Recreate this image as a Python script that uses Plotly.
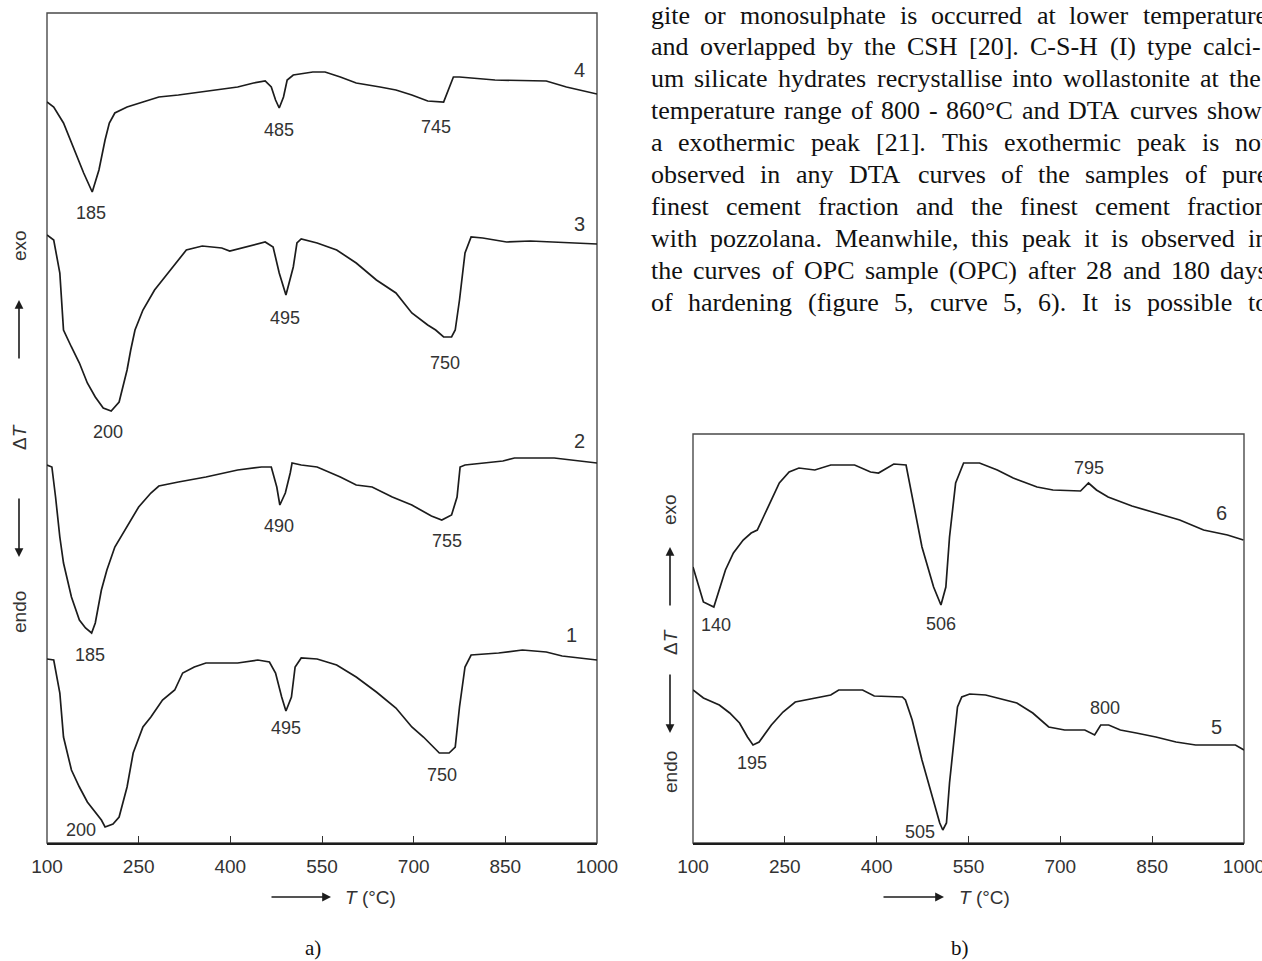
import plotly.graph_objects as go

# ---------------- data (temperature in deg C, Delta T in arbitrary units) ----------------
T1 = [100,111,121,127,140,153,166,179,189,195,208,218,231,241,257,270,289,309,322,341,360,412,445,464,474,484,491,500,506,516,542,574,606,639,671,697,716,729,742,758,768,775,784,794,839,878,917,943,1000]
D1 = [184,183,150,106,73,56,41,31,23,16,19,26,56,90,116,126,143,153,170,176,180,180,183,181,170,146,132,146,176,185,184,178,166,151,135,116,106,98,90,90,96,136,176,188,190,193,191,187,183]

T2 = [100,108,114,121,127,140,153,163,173,179,189,198,211,231,250,270,283,315,360,412,451,467,476,481,490,498,501,516,542,580,606,632,665,697,729,746,762,771,776,784,814,846,865,930,1000]
D2 = [378,376,346,306,280,246,223,215,210,220,253,273,296,316,336,350,357,361,366,373,376,376,356,338,350,370,380,378,376,366,358,356,346,338,327,323,328,346,376,378,380,382,385,385,380]

T3 = [100,111,121,127,140,153,166,179,192,205,218,224,231,237,244,257,276,302,328,354,386,399,425,457,470,480,491,503,509,516,542,574,606,639,671,697,723,736,749,762,768,775,784,794,813,852,891,1000]
D3 = [608,603,570,513,496,480,460,446,435,432,441,456,473,493,513,533,553,573,593,597,595,592,596,601,596,570,548,576,600,604,600,593,580,563,550,530,518,513,506,506,513,543,590,606,605,601,602,599]

T4 = [100,111,127,147,160,174,185,195,202,211,231,257,283,315,380,412,438,457,467,474,480,487,493,503,535,555,580,606,645,671,697,723,749,755,765,775,833,917,950,1000]
D4 = [741,736,720,690,670,651,673,703,720,730,736,741,746,748,753,756,760,762,756,743,735,746,763,768,771,771,766,760,756,753,748,742,741,750,766,766,763,762,756,749]

T5 = [100,117,143,160,176,189,198,208,228,247,267,299,325,338,377,396,442,447,458,474,493,503,508,514,519,526,532,539,552,578,597,629,655,681,707,740,756,766,779,798,824,856,889,921,986,1000]
D5 = [153,145,138,130,120,106,98,101,118,131,141,145,148,153,153,147,146,143,123,83,43,20,13,20,60,103,136,146,149,148,145,140,130,116,113,113,108,118,118,113,110,106,101,98,98,93]

T6 = [100,108,117,134,143,153,166,182,195,205,215,228,241,257,273,299,325,364,390,403,428,448,461,474,493,505,513,519,529,542,568,597,623,662,688,733,746,759,778,817,856,895,934,973,999]
D6 = [276,260,241,236,253,273,290,303,310,313,326,343,360,371,375,373,378,378,371,370,379,378,336,296,256,238,256,306,360,380,380,373,365,356,353,352,360,353,346,337,330,323,313,308,303]

X_TICKS = [100, 250, 400, 550, 700, 850, 1000]

# peak / curve labels (text) and where they sit (T, Delta T)
LABELS_A = ["4", "485", "745", "185", "3", "495", "750", "200", "2", "490", "755", "185", "1", "495", "750", "200"]
LABELS_A_T = [972, 479, 736, 172, 972, 490, 752, 200, 971, 479, 754, 171, 959, 491, 747, 156]
LABELS_A_D = [773, 713, 716, 630, 619, 525, 480, 411, 402, 317, 302, 188, 208, 115, 68, 13]

LABELS_B = ["795", "6", "140", "506", "800", "5", "195", "505"]
LABELS_B_T = [746, 964, 137, 505, 773, 955, 197, 471]
LABELS_B_D = [375, 330, 218, 219, 135, 116, 80, 11]

PARAGRAPH = [
    "gite or monosulphate is occurred at lower temperature",
    "and overlapped by the CSH [20]. C-S-H (I) type calci-",
    "um silicate hydrates recrystallise into wollastonite at the",
    "temperature range of 800 - 860°C and DTA curves show",
    "a exothermic peak [21]. This exothermic peak is not",
    "observed in any DTA curves of the samples of pure",
    "finest cement fraction and the finest cement fraction",
    "with pozzolana. Meanwhile, this peak it is observed in",
    "the curves of OPC sample (OPC) after 28 and 180 days",
    "of hardening (figure 5, curve 5, 6). It is possible to",
]

# ---------------- layout helpers ----------------
W, H = 1262, 961
def X(p):
    return p / W
def Y(p):
    return 1 - p / H

SANS = "Liberation Sans, Arial, sans-serif"
SERIF = "Liberation Serif, Times New Roman, serif"
TXT = "#333333"
LINE = "#1c1c1c"

fig = go.Figure()
for T, D in [(T1, D1), (T2, D2), (T3, D3), (T4, D4)]:
    fig.add_trace(go.Scatter(x=T, y=D, mode="lines", line=dict(color=LINE, width=1.7),
                             xaxis="x", yaxis="y", showlegend=False, hoverinfo="skip"))
for T, D in [(T5, D5), (T6, D6)]:
    fig.add_trace(go.Scatter(x=T, y=D, mode="lines", line=dict(color=LINE, width=1.7),
                             xaxis="x2", yaxis="y2", showlegend=False, hoverinfo="skip"))

xcommon = dict(range=[100, 1000], tickvals=X_TICKS, ticks="inside", ticklen=7, tickwidth=1.3,
               tickcolor="#333", showline=True, linecolor="#1c1c1c", linewidth=2.4,
               showgrid=False, zeroline=False, tickfont=dict(family=SANS, size=19, color=TXT),
               ticklabelstandoff=5, automargin=False, ticklabeloverflow="allow")

fig.update_layout(
    width=W, height=H, margin=dict(l=0, r=0, t=0, b=0, pad=0, autoexpand=False),
    paper_bgcolor="white", plot_bgcolor="white",
    xaxis=dict(domain=[X(47), X(597)], anchor="y", **xcommon),
    yaxis=dict(domain=[Y(843), Y(13)], range=[0, 830], visible=False, automargin=False),
    xaxis2=dict(domain=[X(693), X(1244)], anchor="y2", **xcommon),
    yaxis2=dict(domain=[Y(843), Y(434)], range=[0, 409], visible=False, automargin=False),
)

# frames
for xr, yr in [("x domain", "y domain"), ("x2 domain", "y2 domain")]:
    fig.add_shape(type="rect", xref=xr, yref=yr, x0=0, x1=1, y0=0, y1=1,
                  line=dict(color="#4a4a4a", width=1.4), layer="below")

ann = []
# peak labels
for t, x, d in zip(LABELS_A, LABELS_A_T, LABELS_A_D):
    ann.append(dict(x=x, y=d, xref="x", yref="y", text=t, showarrow=False,
                    xanchor="center", yanchor="middle",
                    font=dict(family=SANS, size=18 if len(t) > 1 else 20, color=TXT)))
for t, x, d in zip(LABELS_B, LABELS_B_T, LABELS_B_D):
    ann.append(dict(x=x, y=d, xref="x2", yref="y2", text=t, showarrow=False,
                    xanchor="center", yanchor="middle",
                    font=dict(family=SANS, size=18 if len(t) > 1 else 20, color=TXT)))

def P(x, y, **kw):
    d = dict(x=X(x), y=Y(y), xref="paper", yref="paper", xanchor="center", yanchor="middle")
    d.update(kw)
    return d

ARROW = dict(arrowhead=2, arrowsize=1.1, arrowwidth=1.6, arrowcolor="#1c1c1c", standoff=0, startstandoff=0)

# x-axis titles with arrows
for tail, tip, tx in [(270, 331, 343), (882, 944, 957)]:
    ann.append(P(tip, 897, text="", showarrow=True, ax=tail - tip, ay=0, **ARROW))
    ann.append(P(tx, 897, xanchor="left", text="<i>T</i> (°C)", showarrow=False,
                 font=dict(family=SANS, size=19, color=TXT)))

# y-axis titles (rotated) with arrows
for xc, exo_y, up_tip, up_tail, dt_y, dn_tail, dn_tip, endo_y in [
        (19, 246, 300, 360, 437, 497, 557, 612),
        (670, 510, 547, 607, 642, 673, 733, 772)]:
    for txt, yy in [("exo", exo_y), ("Δ<i>T</i>", dt_y), ("endo", endo_y)]:
        ann.append(P(xc, yy, text=txt, textangle=-90, showarrow=False,
                     font=dict(family=SANS, size=19, color=TXT)))
    ann.append(P(xc, up_tip, text="", showarrow=True, ax=0, ay=up_tail - up_tip, **ARROW))
    ann.append(P(xc, dn_tip, text="", showarrow=True, ax=0, ay=dn_tail - dn_tip, **ARROW))

# panel captions
ann.append(P(313, 948, text="a)", showarrow=False, font=dict(family=SERIF, size=21, color="#111")))
ann.append(P(960, 948, text="b)", showarrow=False, font=dict(family=SERIF, size=21, color="#111")))

# justified paragraph (word by word, Times metrics)
TIMES = {c: w for c, w in zip("abcdefghijklmnopqrstuvwxyz",
                              [444,500,444,500,444,333,500,500,278,278,500,278,778,500,500,500,500,333,389,278,500,500,722,500,500,444])}
TIMES.update({c: w for c, w in zip("ABCDEFGHIJKLMNOPQRSTUVWXYZ",
                                   [722,667,667,722,611,556,722,722,333,389,722,611,889,722,722,556,722,667,556,611,722,722,944,722,722,611])})
TIMES.update({d: 500 for d in "0123456789"})
TIMES.update({" ": 250, ".": 250, ",": 250, "-": 333, "(": 333, ")": 333, "[": 333, "]": 333, "°": 400, ":": 278, ";": 278})

FS = 26
LEFT = 650
RIGHTS = [1266, 1260, 1260, 1261, 1267, 1267, 1267, 1267, 1267, 1267]
for i, line in enumerate(PARAGRAPH):
    words = line.split(" ")
    widths = [sum(TIMES.get(ch, 500) for ch in w) * FS / 1000 for w in words]
    gap = (RIGHTS[i] - LEFT - sum(widths)) / (len(words) - 1)
    xpos = LEFT
    yc = 15 + 31.9 * i
    for w, wd in zip(words, widths):
        ann.append(P(xpos, yc, xanchor="left", text=w, showarrow=False, borderpad=0,
                     font=dict(family=SERIF, size=FS, color="#111")))
        xpos += wd + gap

fig.update_layout(annotations=ann)
fig.write_html("out.html")
